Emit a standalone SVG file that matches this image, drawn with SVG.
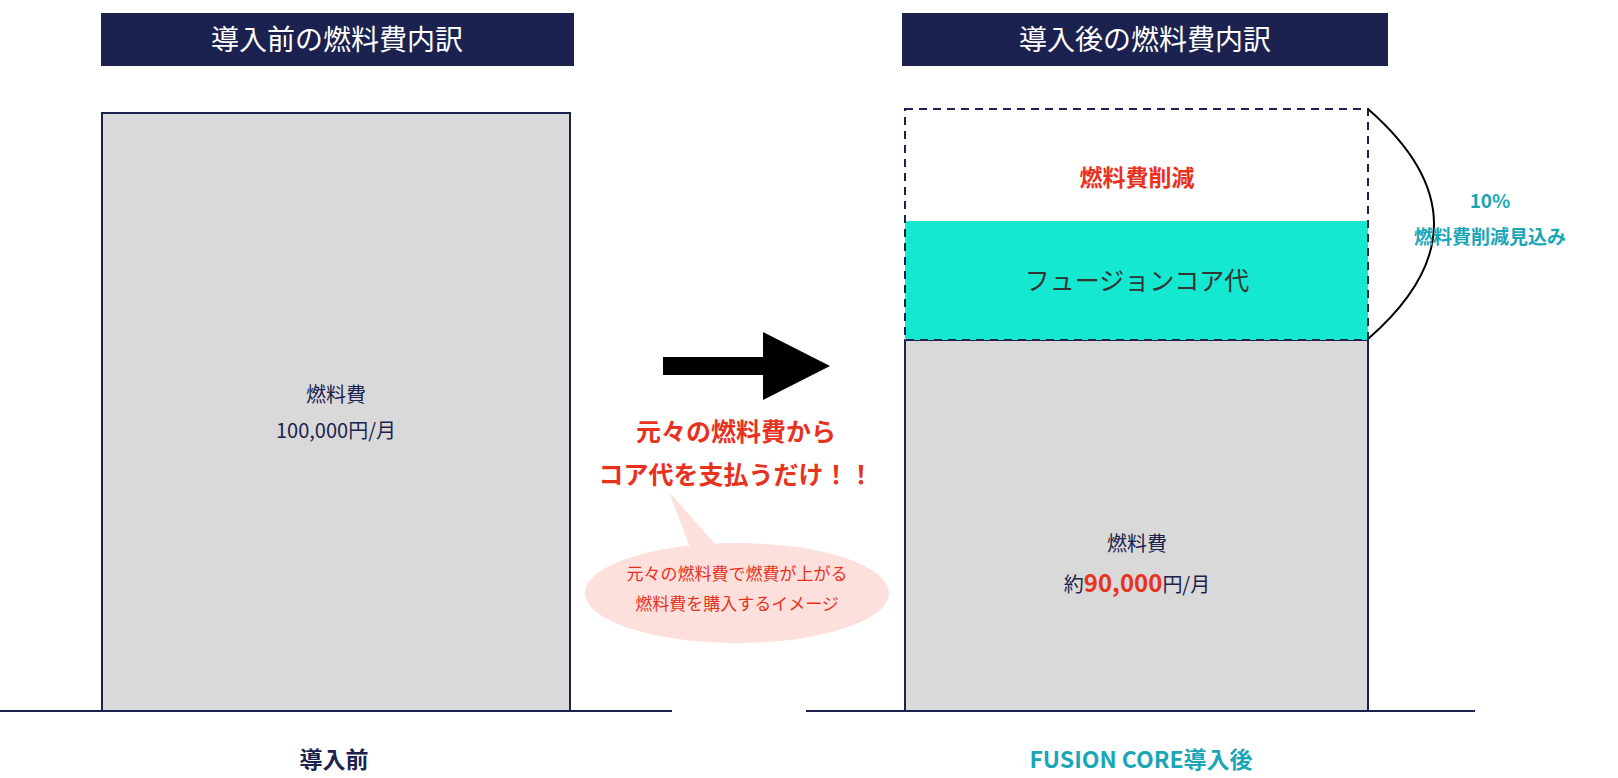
<svg xmlns="http://www.w3.org/2000/svg" width="1618" height="778" viewBox="0 0 1618 778">
<style>
text{font-family:"Noto Sans CJK JP","Noto Sans",sans-serif;text-anchor:middle}
.hd{fill:#1c2250}.ht{fill:#fff;font-size:28px}
.gray{fill:#d9d9d9;stroke:#1c2250;stroke-width:2}
.nv{fill:#1c2250;font-size:20px}
.red{fill:#e8321e;font-weight:bold}
.teal{fill:#1aa6b7;font-weight:bold}
</style>
<rect width="1618" height="778" fill="#fff"/>
<g id="header-left"><rect class="hd" x="101" y="13" width="473" height="53"/><text class="ht" x="337" y="50">導入前の燃料費内訳</text></g>
<g id="header-right"><rect class="hd" x="902" y="13" width="486" height="53"/><text class="ht" x="1145" y="50">導入後の燃料費内訳</text></g>
<g id="box-before"><rect class="gray" x="102" y="113" width="468" height="598"/>
<text class="nv" x="336" y="402">燃料費</text><text class="nv" x="336" y="438">100,000円/月</text></g>
<g id="box-after-fuel"><rect class="gray" x="905" y="340" width="463" height="371"/>
<text class="nv" x="1137" y="551">燃料費</text><text class="nv" x="1137" y="592">約<tspan class="red" font-size="24">90,000</tspan>円/月</text></g>
<g id="box-core"><rect x="905" y="221" width="463" height="119" fill="#15e8d0"/><text x="1137" y="290" font-size="25" fill="#333">フュージョンコア代</text></g>
<g id="box-saving"><rect x="905" y="109" width="463" height="231" fill="none" stroke="#1c2250" stroke-width="2" stroke-dasharray="8,6"/><text class="red" x="1137" y="186" font-size="23">燃料費削減</text></g>
<g id="connectors">
<line x1="0" y1="711" x2="672" y2="711" stroke="#1c2250" stroke-width="2"/>
<line x1="806" y1="711" x2="1475" y2="711" stroke="#1c2250" stroke-width="2"/>
<path d="M1368 109 Q1500 224 1368 339" fill="none" stroke="#000" stroke-width="2"/>
<polygon points="663,357 763,357 763,332 830,366 763,400 763,375 663,375" fill="#000"/>
</g>
<g id="saving-label"><text class="teal" x="1490" y="208" font-size="19">10%</text><text class="teal" x="1490" y="244" font-size="19">燃料費削減見込み</text></g>
<g id="message"><text class="red" x="736" y="441" font-size="25">元々の燃料費から</text><text class="red" x="736" y="484" font-size="25">コア代を支払うだけ！！</text></g>
<g id="bubble"><path d="M669 492 L716 545 L690 547 Z" fill="#fde0dc"/><ellipse cx="737" cy="593" rx="152" ry="50" fill="#fde0dc"/>
<text x="737" y="580" font-size="17" fill="#e8321e">元々の燃料費で燃費が上がる</text><text x="737" y="610" font-size="17" fill="#e8321e">燃料費を購入するイメージ</text></g>
<g id="labels"><text x="334" y="768" font-size="23" font-weight="bold" fill="#1c2250">導入前</text><text class="teal" x="1141" y="768" font-size="23">FUSION CORE導入後</text></g>
</svg>
